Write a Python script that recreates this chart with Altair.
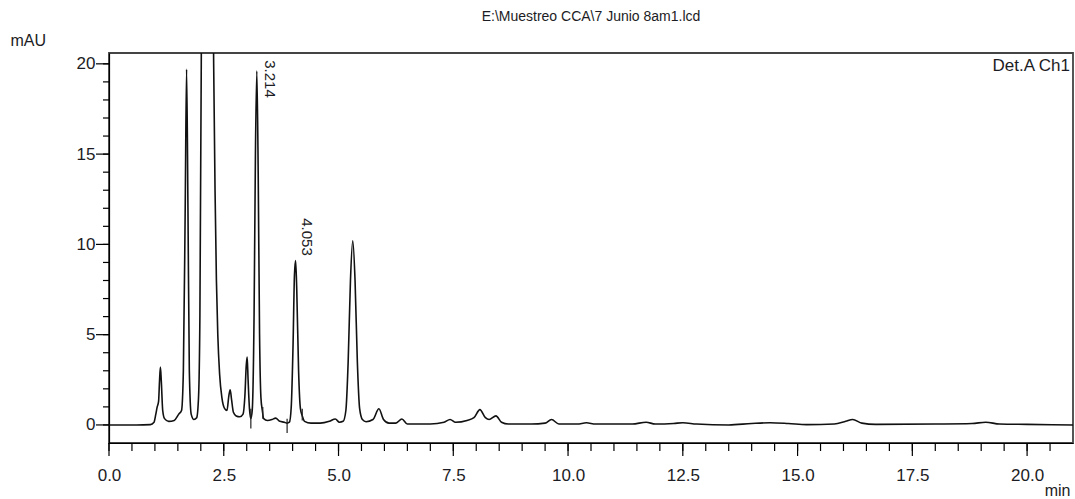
import altair as alt
import pandas as pd

# ---- chromatogram trace (time in min, signal in mAU) ----
time_min = [
    0.0, 0.6, 0.9, 0.98, 1.02, 1.05, 1.08, 1.10, 1.12, 1.14, 1.17, 1.21, 1.30, 1.42,
    1.52, 1.58, 1.62, 1.66, 1.69, 1.72, 1.75, 1.79, 1.85, 1.91, 1.95, 1.98, 2.01, 2.04,
    2.14, 2.25, 2.28, 2.31, 2.34, 2.37, 2.41, 2.46, 2.52, 2.57, 2.61, 2.64, 2.67, 2.71,
    2.77, 2.85, 2.92, 2.96, 2.99, 3.01, 3.03, 3.06, 3.09, 3.12, 3.16, 3.19, 3.22, 3.25,
    3.28, 3.31, 3.34, 3.37, 3.45, 3.55, 3.63, 3.72, 3.82, 3.88, 3.93, 3.97, 4.01, 4.04,
    4.065, 4.09, 4.13, 4.17, 4.21, 4.26, 4.4, 4.6, 4.8, 4.93, 5.02, 5.1, 5.16, 5.21,
    5.26, 5.31, 5.36, 5.41, 5.46, 5.52, 5.6, 5.75, 5.88, 5.98, 6.1, 6.25, 6.38, 6.5,
    6.6, 7.0, 7.3, 7.43, 7.55, 7.8, 7.95, 8.08, 8.2, 8.28, 8.43, 8.55, 8.7, 9.2,
    9.5, 9.64, 9.8, 10.2, 10.4, 10.6, 11.4, 11.7, 11.9, 12.3, 12.5, 12.8, 13.5, 14.0,
    14.4, 14.8, 15.2, 15.8, 16.05, 16.2, 16.4, 16.7, 18.0, 18.8, 19.1, 19.4, 20.0, 21.0,
]
signal_mau = [
    0.0, 0.0, 0.02, 0.15, 0.6, 1.0, 1.3, 2.4, 3.2, 2.4, 0.8, 0.35, 0.2, 0.25,
    0.6, 0.8, 3.0, 12.0, 19.7, 12.0, 3.0, 0.6, 0.3, 0.4, 1.5, 6.0, 20.0, 40.0,
    70.0, 30.0, 20.0, 13.0, 8.0, 5.0, 2.8, 1.5, 0.9, 0.8, 1.6, 1.95, 1.4, 0.7,
    0.5, 0.45, 0.6, 1.6, 3.3, 3.76, 2.5, 0.9, 0.35, 0.8, 6.0, 15.0, 19.6, 14.0,
    5.0, 1.5, 0.8, 0.35, 0.25, 0.3, 0.38, 0.2, 0.15, 0.1, 0.15, 1.0, 4.5, 8.3,
    9.1, 7.5, 3.0, 0.9, 0.5, 0.2, 0.1, 0.1, 0.2, 0.33, 0.15, 0.2, 0.8, 3.5,
    8.0, 10.2, 8.0, 3.5, 0.9, 0.3, 0.18, 0.3, 0.9, 0.3, 0.1, 0.1, 0.33, 0.05,
    0.05, 0.05, 0.15, 0.3, 0.15, 0.25, 0.4, 0.85, 0.4, 0.3, 0.5, 0.15, 0.05, 0.05,
    0.1, 0.3, 0.05, 0.05, 0.12, 0.05, 0.05, 0.15, 0.05, 0.08, 0.12, 0.05, 0.0, 0.08,
    0.12, 0.08, 0.02, 0.05, 0.2, 0.3, 0.1, 0.03, 0.05, 0.08, 0.15, 0.05, 0.03, 0.0,
]

# ---- peak labels ----
peak_label_text = ["3.214", "4.053"]
peak_label_time = [3.50, 4.31]
peak_label_top = [20.2, 11.45]

# ---- integration markers ----
marker_time = [3.09, 3.35, 3.88, 4.21]
marker_lo = [-0.2, 0.35, -0.45, 0.25]
marker_hi = [0.9, 1.0, 0.35, 0.9]

# ---- axis ticks ----
x_ticks = [0.0, 0.5, 1.0, 1.5, 2.0, 2.5, 3.0, 3.5, 4.0, 4.5, 5.0, 5.5, 6.0, 6.5, 7.0,
           7.5, 8.0, 8.5, 9.0, 9.5, 10.0, 10.5, 11.0, 11.5, 12.0, 12.5, 13.0, 13.5,
           14.0, 14.5, 15.0, 15.5, 16.0, 16.5, 17.0, 17.5, 18.0, 18.5, 19.0, 19.5,
           20.0, 20.5]
x_major = [0.0, 2.5, 5.0, 7.5, 10.0, 12.5, 15.0, 17.5, 20.0]
y_ticks = [0, 1, 2, 3, 4, 5, 6, 7, 8, 9, 10, 11, 12, 13, 14, 15, 16, 17, 18, 19, 20]
y_major = [0, 5, 10, 15, 20]

X_DOMAIN = [0, 21]
Y_DOMAIN = [-1, 20.6]
FONT = "Liberation Sans"
TXT = "#1c1c24"
W, H = 964, 390

trace = pd.DataFrame({"t": time_min, "v": signal_mau})
labels = pd.DataFrame({"t": peak_label_time, "v": peak_label_top, "txt": peak_label_text})
markers = pd.DataFrame({"t": marker_time, "v": marker_lo, "hi": marker_hi})
xmin_df = pd.DataFrame({"t": x_ticks})
xmaj_df = pd.DataFrame({"t": x_major})
ymin_df = pd.DataFrame({"v": y_ticks})
ymaj_df = pd.DataFrame({"v": y_major})

xscale = alt.Scale(domain=X_DOMAIN, nice=False, zero=False)
yscale = alt.Scale(domain=Y_DOMAIN, nice=False, zero=False)

x_axis = alt.Axis(
    values=x_major,
    format=".1f",
    ticks=True,
    tickSize=0,
    labelPadding=24,
    labelFontSize=17,
    labelFont=FONT,
    labelColor=TXT,
    labelFlush=False,
    labelOverlap=False,
    grid=False,
    domainColor="#000000",
    domainWidth=1.2,
    title="min",
    titleFont=FONT,
    titleFontSize=16,
    titleFontWeight="normal",
    titleColor=TXT,
    titleX=961,
    titleY=47,
    titleAlign="right",
    titleBaseline="middle",
    titleAnchor="end",
)

y_axis = alt.Axis(
    values=y_major,
    format="d",
    ticks=True,
    tickSize=0,
    labelPadding=14,
    labelFontSize=17,
    labelFont=FONT,
    labelColor=TXT,
    labelFlush=False,
    labelOverlap=False,
    grid=False,
    domainColor="#000000",
    domainWidth=1.2,
    title="mAU",
    titleFont=FONT,
    titleFontSize=16,
    titleFontWeight="normal",
    titleColor=TXT,
    titleAngle=0,
    titleX=-99,
    titleY=-13,
    titleAlign="left",
    titleBaseline="middle",
)

X_ENC = alt.X("t:Q", scale=xscale, axis=x_axis)
Y_ENC = alt.Y("v:Q", scale=yscale, axis=y_axis)

line = alt.Chart(trace).mark_line(
    color="#111111", strokeWidth=1.6, clip=True, interpolate="monotone"
).encode(x=X_ENC, y=Y_ENC)

mark_rules = alt.Chart(markers).mark_rule(color="#222222", strokeWidth=1.2).encode(
    x=X_ENC, y=Y_ENC, y2="hi:Q",
)

# tick marks (minor and major) drawn as rules outside the plot
TICK = dict(color="#000000", strokeWidth=1.2)
y_minor_ticks = alt.Chart(ymin_df).mark_rule(**TICK).encode(
    y=Y_ENC, x=alt.value(-6), x2=alt.value(0),
)
y_major_ticks = alt.Chart(ymaj_df).mark_rule(**TICK).encode(
    y=Y_ENC, x=alt.value(-13), x2=alt.value(0),
)
x_minor_ticks = alt.Chart(xmin_df).mark_rule(**TICK).encode(
    x=X_ENC, y=alt.value(H), y2=alt.value(H + 8),
)
x_major_ticks = alt.Chart(xmaj_df).mark_rule(**TICK).encode(
    x=X_ENC, y=alt.value(H), y2=alt.value(H + 13),
)

peak_text = alt.Chart(labels).mark_text(
    angle=90, align="left", baseline="middle", font=FONT, fontSize=15, color=TXT
).encode(x=X_ENC, y=Y_ENC, text="txt:N")

det_text = alt.Chart(pd.DataFrame({"txt": ["Det.A Ch1"]})).mark_text(
    align="right", baseline="middle", font=FONT, fontSize=17, color=TXT
).encode(
    x=alt.value(961),
    y=alt.value(13),
    text="txt:N",
)

chart = alt.layer(
    line, mark_rules, y_minor_ticks, y_major_ticks, x_minor_ticks, x_major_ticks,
    peak_text, det_text,
).properties(
    width=W,
    height=H,
    background="white",
    title=alt.TitleParams(
        "E:\\Muestreo CCA\\7 Junio 8am1.lcd",
        font=FONT, fontSize=14, fontWeight="normal", color=TXT,
        anchor="middle", frame="group", offset=8,
    ),
    autosize=alt.AutoSizeParams(type="none"),
    padding={"left": 109, "top": 53, "right": 2, "bottom": 56},
).configure_view(
    stroke="#444444", strokeWidth=1.8
)

chart.save("out.html", embed_options={"renderer": "svg", "actions": False})
